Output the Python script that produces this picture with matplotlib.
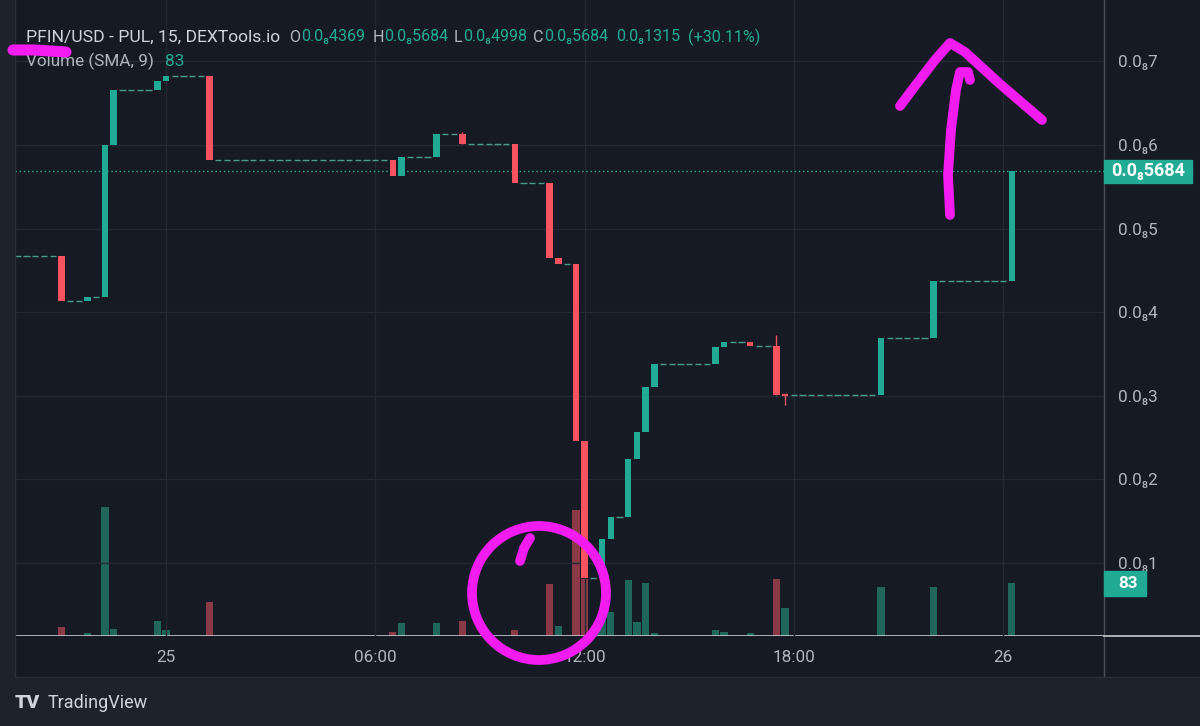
import matplotlib
matplotlib.use("Agg")
import matplotlib.pyplot as plt
from matplotlib.patches import Rectangle, Ellipse
from matplotlib.lines import Line2D
from matplotlib.ticker import FuncFormatter

plt.rcParams['font.family'] = ['Roboto', 'DejaVu Sans']

# ---------------- data (prices in units of 1e-9 USD, 15-min slots, 0 = 25 00:00) -------------
candle_idx = [-12, -9, -7, -6, -1, 0, 5, 26, 27, 31, 34, 40, 44, 45, 47, 48,
              50, 51, 53, 54, 55, 56, 63, 64, 67, 70, 71, 82, 88, 97]
opens = [4.672, 4.138, 4.180, 6.000, 6.658, 6.760, 6.822, 5.820, 5.630, 5.860, 6.128,
         6.016, 5.549, 4.645, 4.577, 2.463, 0.817, 1.283, 1.554, 2.240, 2.571, 3.109,
         3.380, 3.580, 3.647, 3.600, 3.010, 3.005, 3.688, 4.369]
closes = [4.138, 4.180, 6.000, 6.658, 6.760, 6.822, 5.820, 5.630, 5.860, 6.128, 6.016,
          5.549, 4.645, 4.577, 2.463, 0.817, 1.283, 1.554, 2.240, 2.571, 3.109, 3.380,
          3.580, 3.647, 3.600, 3.010, 3.005, 3.688, 4.369, 5.684]
wick_high = {34: 6.150, 70: 3.727}
wick_low = {71: 2.890}
first_price = 4.672
first_slot = -17

vol_idx = [-12, -9, -7, -6, -1, 0, 5, 26, 27, 31, 34, 40, 44, 45, 47, 48, 50, 51,
           53, 54, 55, 56, 63, 64, 67, 70, 71, 82, 88, 97]
volumes = [14, 5, 203, 11, 23, 9, 54, 7, 21, 21, 23, 9, 82, 15, 198, 90, 31, 38,
           88, 22, 83, 5, 9, 7, 5, 89, 44, 77, 77, 83]
vol_up = [False, True, True, True, True, True, False, False, True, True, False, False,
          False, True, False, False, True, True, True, True, True, True, True, True,
          True, False, True, True, True, True]

xtick_slots = [0, 24, 48, 72, 96]
xtick_labels = ['25', '06:00', '12:00', '18:00', '26']
price_ticks = [1, 2, 3, 4, 5, 6, 7]

# ---------------- style ----------------
W, H = 1200, 726
BG = '#161a25'
OUTER = '#1e222d'
GRID = '#242734'
TXT = '#b2b5be'
UP = '#22ab94'
DOWN = '#f7525f'
VUP = '#1f665d'
VDOWN = '#8a3a46'
DASH = '#4a9a90'
MAG = '#f21cf0'
FS = 12.3

def fx(x):
    return x / W

def fy(y):
    return 1 - y / H

fig = plt.figure(figsize=(12, 7.26), dpi=100, facecolor=OUTER)
# chart panel background
fig.patches.append(Rectangle((fx(15), fy(677)), fx(W - 15), 677 / H,
                             transform=fig.transFigure, color=BG, zorder=-10))

rect = [fx(15), fy(636), fx(1104 - 15), 636 / H]
axv = fig.add_axes(rect, facecolor=BG)
ax = fig.add_axes(rect, facecolor='none')

XLIM = (-17.32, 107.57)
for a in (axv, ax):
    a.set_xlim(*XLIM)
    for s in a.spines.values():
        s.set_visible(False)

# volume pane
axv.set_ylim(0, 1001.6)
axv.bar(vol_idx, volumes, width=0.84, color=[VUP if u else VDOWN for u in vol_up],
        linewidth=0, zorder=2)
axv.set_xticks([])
axv.set_yticks([])
axv.axhline(0, color='#c8cad0', lw=1.2, zorder=3)

# price pane
ax.set_ylim(0.127, 7.734)
for p in price_ticks:
    ax.axhline(p, color=GRID, lw=1, zorder=0)
for s in xtick_slots:
    ax.axvline(s, color=GRID, lw=1, zorder=0)

# flat (no-trade) candles drawn as short segments at carried price
active = dict(zip(candle_idx, closes))
price = first_price
for slot in range(first_slot, candle_idx[-1]):
    if slot in active:
        price = active[slot]
        continue
    ax.hlines(price, slot - 0.36, slot + 0.36, color=DASH, lw=1.0, zorder=3)

# candles
for i, o, c in zip(candle_idx, opens, closes):
    col = UP if c >= o else DOWN
    hi = wick_high.get(i, max(o, c))
    lo = wick_low.get(i, min(o, c))
    if hi > max(o, c) or lo < min(o, c):
        ax.vlines(i, lo, hi, color=col, lw=1.0, zorder=4)
    h = c - o
    if abs(h) < 0.03:
        ax.hlines(o, i - 0.37, i + 0.37, color=col, lw=1.6, zorder=5)
    else:
        ax.bar(i, h, bottom=o, width=0.74, color=col, zorder=5, linewidth=0)

# last price dotted line
last_close = closes[-1]
ax.axhline(last_close, color=UP, lw=1.0, ls=(0, (1, 2)), zorder=2)

# axes ticks
ax.yaxis.tick_right()
ax.set_yticks(price_ticks)
ax.yaxis.set_major_formatter(FuncFormatter(lambda v, pos: f"0.0\u2088{int(round(v))}"))
ax.tick_params(axis='y', length=0, pad=10, labelsize=FS, labelcolor=TXT)
ax.set_xticks(xtick_slots)
ax.set_xticklabels(xtick_labels)
ax.tick_params(axis='x', length=0, pad=10, labelsize=FS, labelcolor=TXT)

# separators
fig.add_artist(Line2D([fx(1104), fx(1104)], [fy(0), fy(677)], color='#4a4e5a', lw=1))
fig.add_artist(Line2D([fx(1104), fx(W)], [fy(636), fy(636)], color='#c8cad0', lw=1.2))
fig.add_artist(Line2D([fx(15), fx(15)], [fy(0), fy(677)], color='#2a2e39', lw=1))
fig.add_artist(Line2D([fx(15), fx(W)], [fy(677), fy(677)], color='#2a2e39', lw=1))

# value labels on price axis (positions from data)
fig.canvas.draw()
inv = fig.transFigure.inverted()
yl = inv.transform(ax.transData.transform((0, last_close)))[1]
fig.patches.append(Rectangle((fx(1104), yl - 11.5 / H), fx(88), 23 / H,
                             transform=fig.transFigure, color=UP, zorder=5))
fig.text(fx(1111), yl, "0.0\u20885684", color='white', fontsize=13, fontweight='bold',
         va='center', ha='left', zorder=6)
yv = inv.transform(axv.transData.transform((0, volumes[-1])))[1]
fig.patches.append(Rectangle((fx(1104), yv - 12.5 / H), fx(42), 25 / H,
                             transform=fig.transFigure, color=UP, zorder=5))
fig.text(fx(1118), yv, str(volumes[-1]), color='white', fontsize=FS, fontweight='bold',
         va='center', ha='left', zorder=6)

# header legend
hy = fy(37)
fig.text(fx(26), hy, "PFIN/USD - PUL, 15, DEXTools.io", color='#d1d4dc', fontsize=12.6,
         va='center')
pieces = [(289, "O", TXT), (301, "0.0\u20884369", UP), (373, "H", TXT),
          (384, "0.0\u20885684", UP), (454, "L", TXT), (463, "0.0\u20884998", UP),
          (533, "C", TXT), (544, "0.0\u20885684", UP),
          (616, "0.0\u20881315", UP), (688, "(+30.11%)", UP)]
for x, t, c in pieces:
    fig.text(fx(x), hy, t, color=c, fontsize=11.6, va='center')
fig.text(fx(26), fy(61), "Volume (SMA, 9)", color=TXT, fontsize=FS, va='center')
fig.text(fx(165), fy(61), "83", color=UP, fontsize=FS, va='center')

# TradingView footer
fig.text(fx(15), fy(703), "TV", color='#d1d4dc', fontsize=14, fontweight='heavy',
         va='center', ha='left')
fig.text(fx(48), fy(703), "TradingView", color='#d1d4dc', fontsize=13, va='center')

# hand-drawn magenta annotations
def stroke(pts, lw=7.0):
    xs = [fx(p[0]) for p in pts]
    ys = [fy(p[1]) for p in pts]
    fig.add_artist(Line2D(xs, ys, color=MAG, lw=lw, solid_capstyle='round',
                          solid_joinstyle='round', zorder=20))

stroke([(13, 50), (35, 50), (66, 52)], lw=8)
fig.add_artist(Ellipse((fx(539), fy(593)), fx(134), 134 / H, fill=False,
                       edgecolor=MAG, lw=7, transform=fig.transFigure, zorder=20))
stroke([(520, 561), (524, 548), (530, 538)])
stroke([(950, 215), (948, 175), (951, 130), (956, 90), (960, 72), (968, 72), (970, 80)])
stroke([(900, 106), (915, 86), (935, 60), (950, 43), (965, 52), (1000, 84), (1042, 120)])

fig.savefig("out.png", dpi=100, facecolor=OUTER)
